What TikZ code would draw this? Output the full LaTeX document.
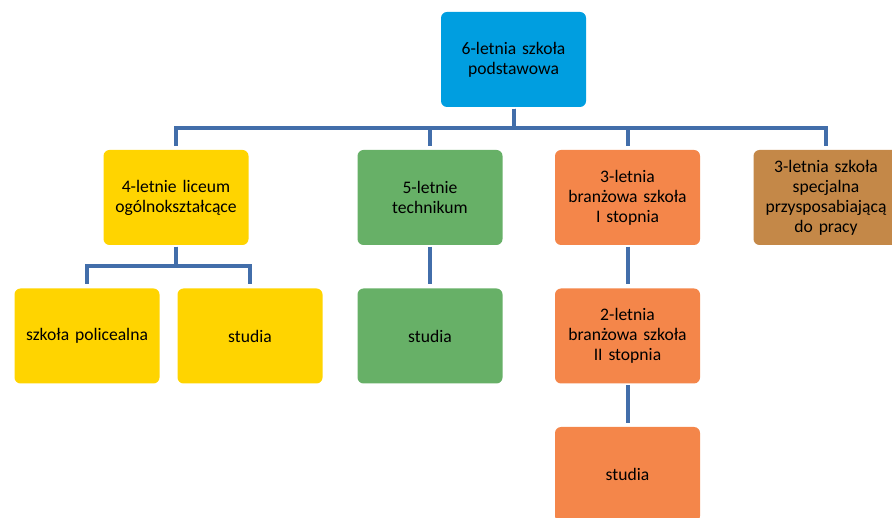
\documentclass[tikz,border=0pt]{standalone}
\usepackage{fontspec}
\setmainfont{Carlito}
\definecolor{podst}{RGB}{0,158,224}
\definecolor{lic}{RGB}{255,212,0}
\definecolor{tech}{RGB}{103,176,103}
\definecolor{bran}{RGB}{244,134,74}
\definecolor{spec}{RGB}{196,136,72}
\definecolor{bus}{RGB}{66,110,170}
\begin{document}
\begin{tikzpicture}[x=1pt, y=-1pt,
  box/.style={rectangle, rounded corners=6pt, minimum width=145pt, minimum height=95pt,
    text width=140pt, align=center, font=\fontsize{17.6}{20}\selectfont, inner sep=0pt},
  link/.style={draw=bus, line width=4pt, shorten <=1.5pt, shorten >=4pt}]
 \clip (0,0) rectangle (892,518);
 % poziom 1
 \node[box, fill=podst] (podst) at (513.5,59.5) {6-letnia szkoła\\podstawowa};
 % poziom 2
 \node[box, fill=lic] (liceum) at (176,197.5) {4-letnie liceum\\ogólnokształcące};
 \node[box, fill=tech] (techn) at (430,197.5) {5-letnie\\technikum};
 \node[box, fill=bran] (branI) at (627.5,197.5) {3-letnia\\branżowa szkoła\\I stopnia};
 \node[box, fill=spec] (specj) at (826,197.5) {3-letnia szkoła\\specjalna\\przysposabiającą\\do pracy};
 % poziom 3
 \node[box, fill=lic] (polic) at (87,336) {szkoła policealna};
 \node[box, fill=lic] (studL) at (250,336) {studia};
 \node[box, fill=tech] (studT) at (430,336) {studia};
 \node[box, fill=bran] (branII) at (627.5,336) {2-letnia\\branżowa szkoła\\II stopnia};
 % poziom 4
 \node[box, fill=bran] (studB) at (627.5,474.5) {studia};
 % polaczenia
 \foreach \n in {liceum, techn, branI, specj}
   \draw[link] (podst.south) -- ++(0,21) -| (\n.north);
 \foreach \n in {polic, studL}
   \draw[link] (liceum.south) -- ++(0,21) -| (\n.north);
 \draw[link] (techn) -- (studT);
 \draw[link] (branI) -- (branII);
 \draw[link] (branII) -- (studB);
\end{tikzpicture}
\end{document}
